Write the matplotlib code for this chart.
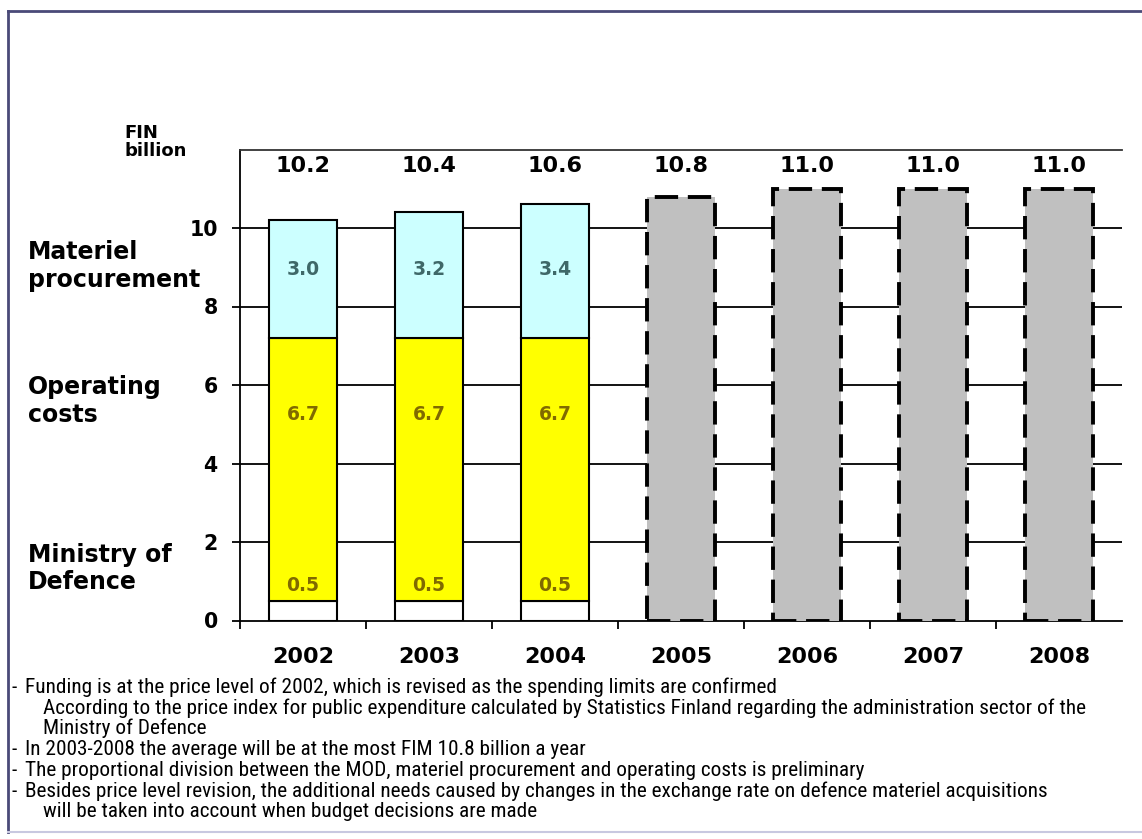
import matplotlib
matplotlib.use("Agg")
import matplotlib.pyplot as plt
from matplotlib import font_manager
import numpy as np

years = ['2002', '2003', '2004', '2005', '2006', '2007', '2008']
mod = [0.5, 0.5, 0.5]
operating = [6.7, 6.7, 6.7]
materiel = [3.0, 3.2, 3.4]
totals = [10.2, 10.4, 10.6, 10.8, 11.0, 11.0, 11.0]
total_labels = ['10.2', '10.4', '10.6', '10.8', '11.0', '11.0', '11.0']
yticks = [0, 2, 4, 6, 8, 10]
side_labels = ['Materiel\nprocurement', 'Operating\ncosts', 'Ministry of\nDefence']
notes = [
    ("-", "Funding is at the price level of 2002, which is revised as the spending limits are confirmed"),
    ("", "According to the price index for public expenditure calculated by Statistics Finland regarding the administration sector of the"),
    ("", "Ministry of Defence"),
    ("-", "In 2003-2008 the average will be at the most FIM 10.8 billion a year"),
    ("-", "The proportional division between the MOD, materiel procurement and operating costs is preliminary"),
    ("-", "Besides price level revision, the additional needs caused by changes in the exchange rate on defence materiel acquisitions"),
    ("", "will be taken into account when budget decisions are made"),
]

plt.rcParams['font.family'] = ['DejaVu Sans']

installed = {f.name for f in font_manager.fontManager.ttflist}
note_family = 'Liberation Sans'
for cand in ['Liberation Sans Narrow', 'Roboto Condensed', 'Open Sans Condensed',
             'DejaVu Sans Condensed', 'Liberation Sans']:
    if cand in installed:
        note_family = cand
        break

W, H = 1142, 839
fig = plt.figure(figsize=(W / 100, H / 100), dpi=100)
ax = fig.add_axes([240 / W, 1 - 620.5 / H, 882 / W, 471 / H])

x = np.arange(len(years))
n_actual = len(mod)
xa = x[:n_actual]
bw = 0.54

for yt in yticks[1:]:
    ax.axhline(yt, color='black', lw=1.3, zorder=1)

bottom2 = np.array(mod)
bottom3 = bottom2 + np.array(operating)
ax.bar(xa, mod, bw, color='white', edgecolor='black', lw=1.5, zorder=3)
ax.bar(xa, operating, bw, bottom=bottom2, color='#ffff00', edgecolor='black', lw=1.5, zorder=3)
ax.bar(xa, materiel, bw, bottom=bottom3, color='#ccffff', edgecolor='black', lw=1.5, zorder=3)

xf = x[n_actual:]
ax.bar(xf, totals[n_actual:], bw, color='#c0c0c0', edgecolor='black', lw=2.8,
       linestyle=(0, (6, 2.5)), zorder=3)

seg_font = dict(fontsize=13.5, fontweight='bold', ha='center', va='center', zorder=5)
for i in range(n_actual):
    ax.text(xa[i], 8.93, f"{materiel[i]:.1f}", color='#3f6868', **seg_font)
    ax.text(xa[i], 5.25, f"{operating[i]:.1f}", color='#806a00', **seg_font)
    ax.text(xa[i], 0.9, f"{mod[i]:.1f}", color='#806a00', **seg_font)

for i, t in enumerate(total_labels):
    ax.text(x[i], 11.57, t, fontsize=16, fontweight='bold', ha='center', va='center')

ax.set_xlim(-0.5, len(years) - 0.5)
ax.set_ylim(0, 12)
ax.set_yticks(yticks)
ax.set_yticklabels([str(v) for v in yticks], fontsize=14.8, fontweight='bold')
ax.set_xticks(x)
ax.set_xticklabels(years, fontsize=16, fontweight='bold')
ax.set_xticks(np.arange(-0.5, len(years) - 1, 1), minor=True)
ax.tick_params(axis='x', which='major', length=0, pad=19)
ax.tick_params(axis='x', which='minor', length=6, width=1.3, direction='out')
ax.tick_params(axis='y', length=6, width=1.3, direction='out', pad=10)
ax.spines['right'].set_visible(False)
for s in ['left', 'bottom', 'top']:
    ax.spines[s].set_linewidth(1.3)
ax.spines['top'].set_color('#333333')

lab_font = dict(fontsize=17, fontweight='bold', ha='left', va='center', linespacing=1.2)
fig.text(28 / W, 1 - 266 / H, side_labels[0], **lab_font)
fig.text(28 / W, 1 - 401 / H, side_labels[1], **lab_font)
fig.text(28 / W, 1 - 568.5 / H, side_labels[2], **lab_font)
fig.text(124 / W, 1 - 142 / H, "FIN\nbillion", fontsize=13, fontweight='bold',
         ha='left', va='center', linespacing=1.0)

# notes: fit font size so the longest line spans the reference width
x_bullet, x_text, x_cont = 11, 25, 43
target_w = 1085 - x_cont
fs = 11.5
probe = fig.text(0, 0, notes[1][1], fontsize=fs, family=note_family)
fig.canvas.draw()
w = probe.get_window_extent(fig.canvas.get_renderer()).width
probe.remove()
fs = fs * target_w / w

y0, step = 687, 20.8
for i, (b, line) in enumerate(notes):
    yy = 1 - (y0 + i * step) / H
    if b:
        fig.text(x_bullet / W, yy, b, fontsize=fs, family=note_family, ha='left', va='center')
        xt = x_text
    else:
        xt = x_cont
    fig.text(xt / W, yy, line, fontsize=fs, family=note_family, ha='left', va='center')

# frame border
fig.add_artist(plt.Line2D([7.5 / W, 7.5 / W], [1 - 11 / H, 1 - 832 / H], color='#4a4a78', lw=2,
                          transform=fig.transFigure))
fig.add_artist(plt.Line2D([7.5 / W, 1], [1 - 11 / H, 1 - 11 / H], color='#4a4a78', lw=2,
                          transform=fig.transFigure))
fig.add_artist(plt.Line2D([7.5 / W, 1], [1 - 832 / H, 1 - 832 / H], color='#c8c8e0', lw=1.5,
                          transform=fig.transFigure))

fig.savefig('out.png', dpi=100)
